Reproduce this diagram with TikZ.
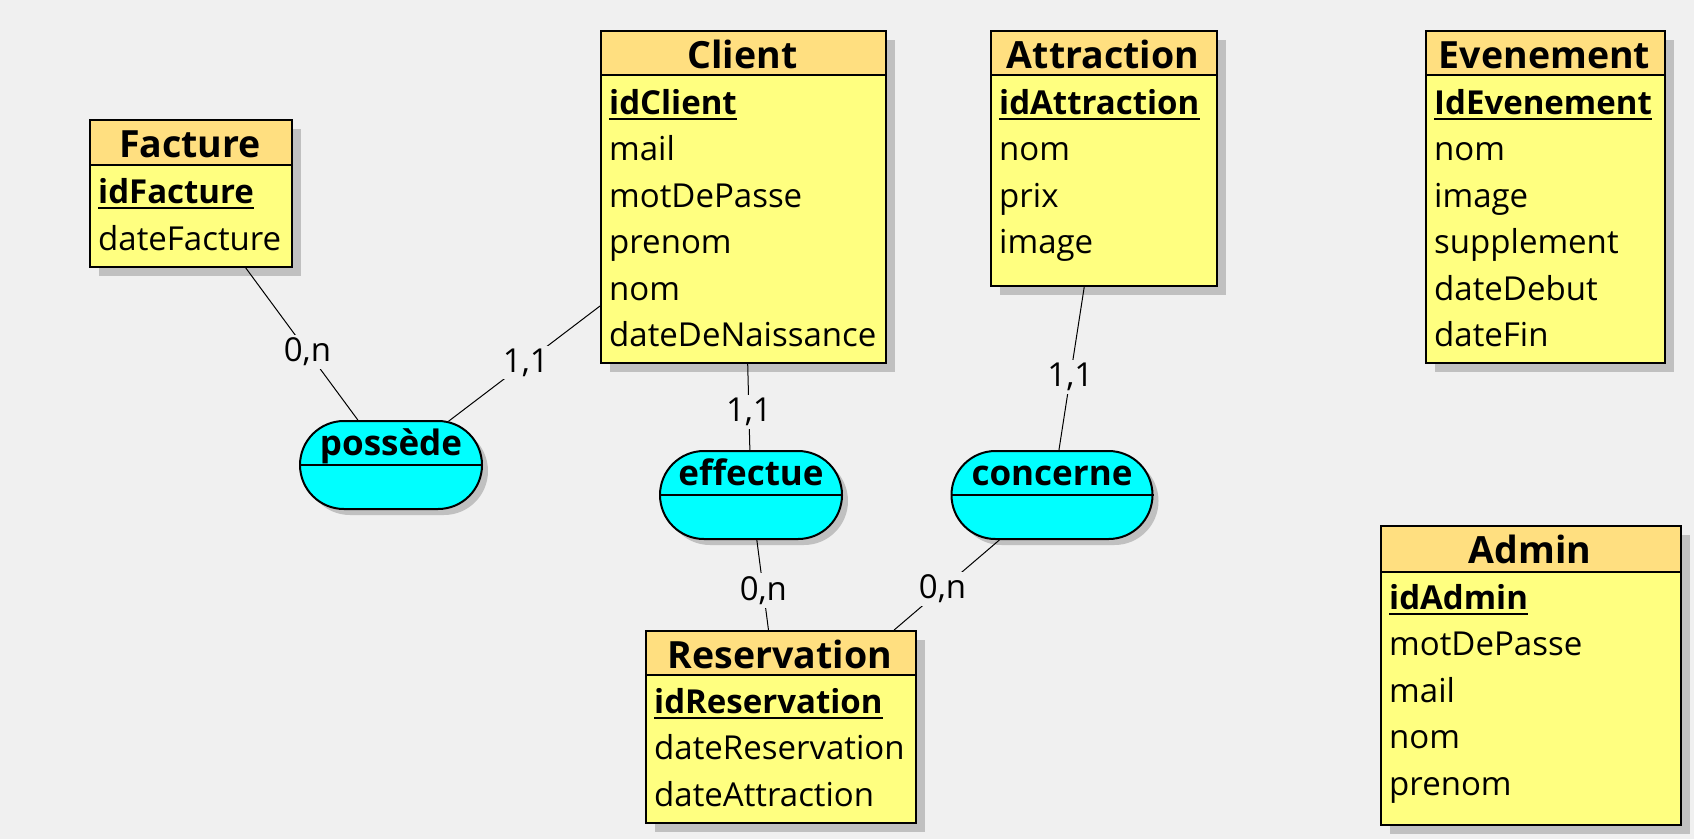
\documentclass[tikz,border=0pt]{standalone}
\usepackage{fontspec}
\setmainfont{Open Sans}
\usetikzlibrary{shapes.misc,shadows}

\definecolor{bgcol}{RGB}{240,240,240}
\definecolor{headcol}{RGB}{255,223,128}
\definecolor{bodycol}{RGB}{255,255,128}
\definecolor{shadecol}{RGB}{192,192,192}
\definecolor{assoccol}{RGB}{0,255,255}

\begin{document}
\begin{tikzpicture}[
  x=1pt, y=-1pt,
  entity/.style={rectangle, draw=black, line width=2pt, fill=bodycol, inner sep=0pt, anchor=north west,
    drop shadow={shadow xshift=9pt, shadow yshift=-9pt, fill=shadecol, opacity=1}},
  head/.style={rectangle, draw=black, line width=2pt, fill=headcol, inner sep=0pt, anchor=north west, minimum height=44pt},
  title/.style={anchor=base, inner sep=0pt, font=\fontsize{37.5}{42}\selectfont\bfseries},
  assoctitle/.style={anchor=base, inner sep=0pt, font=\fontsize{35}{40}\selectfont\bfseries},
  attr/.style={anchor=base west, inner sep=0pt, font=\fontsize{33}{40}\selectfont},
  keyattr/.style={attr, font=\fontsize{33}{40}\selectfont\bfseries},
  keyline/.style={line width=2pt},
  assoc/.style={rounded rectangle, draw=black, line width=2pt, fill=assoccol, inner sep=0pt, minimum height=88pt,
    drop shadow={shadow xshift=6pt, shadow yshift=-6pt, fill=shadecol, opacity=1}},
  link/.style={draw=black, line width=1pt},
  card/.style={fill=bgcol, inner sep=3pt, font=\fontsize{33}{40}\selectfont}
]

\fill[bgcol] (0,0) rectangle (1694,839);
\useasboundingbox (0,0) rectangle (1694,839);

% Facture
\node[entity, minimum width=202pt, minimum height=147pt] (facture) at (89,119) {};
\node[head, minimum width=202pt, minimum height=45pt] (factureH) at (facture.north west) {};
\node[title] (factureT) at (190,157) {Facture};
\node[keyattr] (facture0) at (98,203) {idFacture};
\draw[keyline] ([yshift=-5pt]facture0.base west) -- ([yshift=-5pt]facture0.base east);
\node[attr] (facture1) at (98,250) {dateFacture};

% Client
\node[entity, minimum width=285pt, minimum height=332pt] (client) at (600,30) {};
\node[head, minimum width=285pt] (clientH) at (client.north west) {};
\node[title] (clientT) at (742.5,68) {Client};
\node[keyattr] (client0) at (609,114) {idClient};
\draw[keyline] ([yshift=-5pt]client0.base west) -- ([yshift=-5pt]client0.base east);
\foreach \a [count=\i] in {mail,motDePasse,prenom,nom,dateDeNaissance}
  \node[attr] (client\i) at (609,114+46.5*\i) {\a};

% Attraction
\node[entity, minimum width=226pt, minimum height=255pt] (attraction) at (990,30) {};
\node[head, minimum width=226pt] (attractionH) at (attraction.north west) {};
\node[title] (attractionT) at (1103,68) {Attraction};
\node[keyattr] (attraction0) at (999,114) {idAttraction};
\draw[keyline] ([yshift=-5pt]attraction0.base west) -- ([yshift=-5pt]attraction0.base east);
\foreach \a [count=\i] in {nom,prix,image}
  \node[attr] (attraction\i) at (999,114+46.5*\i) {\a};

% Evenement
\node[entity, minimum width=239pt, minimum height=332pt] (evenement) at (1425,30) {};
\node[head, minimum width=239pt] (evenementH) at (evenement.north west) {};
\node[title] (evenementT) at (1544.5,68) {Evenement};
\node[keyattr] (evenement0) at (1434,114) {IdEvenement};
\draw[keyline] ([yshift=-5pt]evenement0.base west) -- ([yshift=-5pt]evenement0.base east);
\foreach \a [count=\i] in {nom,image,supplement,dateDebut,dateFin}
  \node[attr] (evenement\i) at (1434,114+46.5*\i) {\a};

% Reservation
\node[entity, minimum width=270pt, minimum height=192pt] (reservation) at (645,630) {};
\node[head, minimum width=270pt] (reservationH) at (reservation.north west) {};
\node[title] (reservationT) at (780,668) {Reservation};
\node[keyattr] (reservation0) at (654,713) {idReservation};
\draw[keyline] ([yshift=-5pt]reservation0.base west) -- ([yshift=-5pt]reservation0.base east);
\foreach \a [count=\i] in {dateReservation,dateAttraction}
  \node[attr] (reservation\i) at (654,713+46.5*\i) {\a};

% Admin
\node[entity, minimum width=300pt, minimum height=299pt] (admin) at (1380,525) {};
\node[head, minimum width=300pt, minimum height=46pt] (adminH) at (admin.north west) {};
\node[title] (adminT) at (1530,563) {Admin};
\node[keyattr] (admin0) at (1389,609) {idAdmin};
\draw[keyline] ([yshift=-5pt]admin0.base west) -- ([yshift=-5pt]admin0.base east);
\foreach \a [count=\i] in {motDePasse,mail,nom,prenom}
  \node[attr] (admin\i) at (1389,609+46.5*\i) {\a};

% associations
\node[assoc, minimum width=182pt] (possede) at (391,465) {};
\draw[keyline] (possede.west) -- (possede.east);
\node[assoctitle] (possedeT) at (391,455) {possède};

\node[assoc, minimum width=182pt] (effectue) at (751,495) {};
\draw[keyline] (effectue.west) -- (effectue.east);
\node[assoctitle] (effectueT) at (751,485) {effectue};

\node[assoc, minimum width=201pt] (concerne) at (1052,495) {};
\draw[keyline] (concerne.west) -- (concerne.east);
\node[assoctitle] (concerneT) at (1052,485) {concerne};

% links
\draw[link] (facture) -- node[card, pos=0.55] (card1) {0,n} (possede);
\draw[link] (client) -- node[card, pos=0.49] (card2) {1,1} (possede);
\draw[link] (client) -- node[card, pos=0.56] (card3) {1,1} (effectue);
\draw[link] (attraction) -- node[card, pos=0.55] (card4) {1,1} (concerne);
\draw[link] (effectue) -- node[card, pos=0.56] (card5) {0,n} (reservation);
\draw[link] (concerne) -- node[card, pos=0.54] (card6) {0,n} (reservation);

\end{tikzpicture}
\end{document}
